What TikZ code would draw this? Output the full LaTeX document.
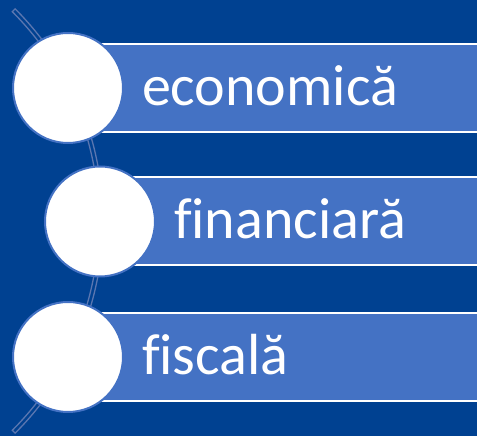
\documentclass[tikz,border=0pt]{standalone}
\usepackage{fontspec}
\setmainfont{Carlito}[Ligatures=CommonOff]
\definecolor{bgblue}{RGB}{0,65,145}
\definecolor{barblue}{RGB}{68,114,196}
\definecolor{arcblue}{RGB}{90,118,176}
\begin{document}
\begin{tikzpicture}[x=1pt,y=1pt,
  bar/.style={draw=white, line width=2pt, fill=barblue, anchor=west,
    minimum height=88pt, text width=280pt, inner xsep=73pt, inner ysep=0pt,
    text height=35pt, text depth=0pt, align=left, text=white,
    font=\fontsize{58}{62}\selectfont},
  dot/.style={draw=barblue, line width=2pt, fill=white, circle,
    minimum size=110pt, inner sep=0pt}]
\fill[bgblue] (0,0) rectangle (477,436);
\useasboundingbox (0,0) rectangle (477,436);
\clip (0,0) rectangle (477,436);

\coordinate (ctr) at (-197,215);
\draw[arcblue, line width=1.3pt, fill=bgblue]
  ([shift={(45:300pt)}]ctr) arc[start angle=45, end angle=-45, radius=300pt]
  -- ([shift={(-45:296pt)}]ctr) arc[start angle=-45, end angle=45, radius=296pt]
  -- cycle;

\node[bar] (b1) at (68,348) {economică};
\node[bar] (b2) at (100,214.5) {financiară};
\node[bar] (b3) at (68,79) {fiscală};

\node[dot] (1) at (68,348) {};
\node[dot] (2) at (100,214.5) {};
\node[dot] (3) at (68,79) {};
\end{tikzpicture}
\end{document}
